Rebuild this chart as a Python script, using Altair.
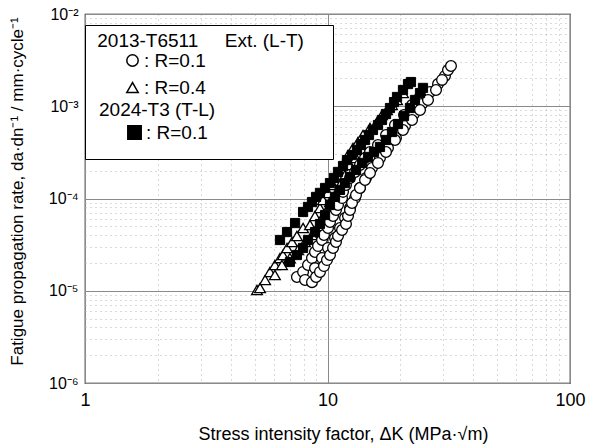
import altair as alt
import pandas as pd

FONT = "Liberation Sans"

# ---------------- data ----------------
# 2013-T6511 Ext. (L-T), R=0.1  (open circles), three bands
c1_dk = [7.48, 7.93, 8.31, 8.63, 8.88, 9.14, 9.49, 9.67, 10.05, 10.24,
         10.54, 10.84, 11.05, 11.48, 11.59, 11.92, 12.38, 12.99, 13.61, 14.28,
         14.97, 16.15, 17.43, 18.98, 20.68, 22.31, 24.07]
c1_rate = [1.41e-5, 1.60e-5, 1.90e-5, 2.26e-5, 2.63e-5, 3.05e-5, 3.55e-5, 4.02e-5, 4.79e-5, 5.56e-5,
           6.46e-5, 7.50e-5, 8.50e-5, 1.01e-4, 1.18e-4, 1.40e-4, 1.67e-4, 1.94e-4, 2.31e-4, 2.75e-4,
           3.19e-4, 3.80e-4, 4.88e-4, 6.26e-4, 8.04e-4, 1.03e-3, 1.26e-3]
c2_dk = [8.63, 8.97, 9.31, 9.67, 9.95, 10.24, 10.54, 10.84, 11.05, 11.48,
         11.92, 12.15, 12.38, 12.62, 13.11, 13.61, 14.28, 14.97, 16.15, 17.43,
         18.98, 20.48, 22.31, 24.07, 25.97, 28.02, 29.67, 31.40, 32.30]
c2_rate = [1.24e-5, 1.41e-5, 1.60e-5, 1.85e-5, 2.15e-5, 2.44e-5, 2.91e-5, 3.38e-5, 3.92e-5, 4.56e-5,
           5.29e-5, 6.46e-5, 7.50e-5, 8.94e-5, 1.09e-4, 1.30e-4, 1.59e-4, 1.89e-4, 2.43e-4, 3.19e-4,
           4.31e-4, 5.53e-4, 7.10e-4, 9.11e-4, 1.17e-3, 1.50e-3, 1.93e-3, 2.47e-3, 2.73e-3]
c3_dk = [8.08, 8.88, 9.49, 10.05, 10.74, 11.26, 11.81, 12.38, 12.99, 13.61,
         14.42, 15.26, 16.46, 17.76, 19.16, 20.87, 22.73, 24.53, 26.47, 28.56, 30.51]
c3_rate = [1.31e-5, 1.76e-5, 2.26e-5, 2.91e-5, 3.73e-5, 4.79e-5, 6.14e-5, 7.89e-5, 1.01e-4, 1.30e-4,
           1.67e-4, 2.14e-4, 2.75e-4, 3.53e-4, 4.53e-4, 6.11e-4, 8.24e-4, 1.06e-3, 1.43e-3, 1.74e-3, 2.13e-3]

# 2013-T6511 Ext. (L-T), R=0.4  (open triangles), two bands
t1_dk = [5.12, 5.27, 5.53, 5.79, 6.07, 6.37, 6.55, 6.81, 7.14, 7.48,
         7.93, 8.47, 8.88, 9.31, 9.58, 10.05, 10.54, 11.05, 11.59, 12.15,
         12.74, 13.36, 14.01, 14.97, 16.00, 16.78, 17.60, 18.45, 19.35, 20.48]
t1_rate = [1.02e-5, 1.07e-5, 1.31e-5, 1.60e-5, 1.90e-5, 2.26e-5, 2.44e-5, 2.91e-5, 3.38e-5, 3.92e-5,
           4.79e-5, 5.16e-5, 6.46e-5, 7.89e-5, 9.63e-5, 1.15e-4, 1.40e-4, 1.80e-4, 2.31e-4, 2.96e-4,
           3.53e-4, 4.10e-4, 4.88e-4, 5.81e-4, 6.75e-4, 8.04e-4, 9.11e-4, 1.03e-3, 1.17e-3, 1.39e-3]
t2_dk = [6.07, 6.49, 7.00, 7.56, 8.08, 8.63, 9.14, 9.49, 9.95, 10.24,
         10.74, 11.26, 11.81, 12.38, 13.11, 13.88]
t2_rate = [1.48e-5, 1.90e-5, 2.26e-5, 2.77e-5, 3.38e-5, 4.02e-5, 5.03e-5, 6.14e-5, 7.50e-5, 9.16e-5,
           1.09e-4, 1.40e-4, 1.80e-4, 2.31e-4, 2.75e-4, 3.36e-4]

# 2024-T3 (T-L), R=0.1  (filled squares), two bands
s1_dk = [6.37, 6.81, 7.35, 7.93, 8.31, 8.63, 8.97, 9.31, 9.77, 10.24,
         10.64, 11.05, 11.59, 12.03, 12.62, 13.23, 13.74, 14.28, 14.83, 15.40,
         16.15, 16.78, 17.43, 18.10, 18.81, 19.35, 20.48, 21.48, 22.09]
s1_rate = [3.55e-5, 4.33e-5, 5.42e-5, 7.14e-5, 8.09e-5, 9.16e-5, 1.04e-4, 1.15e-4, 1.30e-4, 1.47e-4,
           1.67e-4, 1.94e-4, 2.25e-4, 2.61e-4, 2.96e-4, 3.36e-4, 3.80e-4, 4.31e-4, 4.88e-4, 5.53e-4,
           6.26e-4, 7.10e-4, 8.24e-4, 9.57e-4, 1.11e-3, 1.26e-3, 1.50e-3, 1.74e-3, 1.83e-3]
s2_dk = [7.00, 7.48, 7.93, 8.31, 8.88, 9.31, 9.77, 10.24, 10.74, 11.26,
         11.81, 12.38, 13.11, 13.88, 14.69, 15.55, 16.46, 17.43, 18.45, 19.53,
         20.68, 21.88, 22.95, 24.07, 24.76]
s2_rate = [2.05e-5, 2.44e-5, 2.91e-5, 3.55e-5, 4.33e-5, 5.29e-5, 6.62e-5, 8.50e-5, 1.04e-4, 1.24e-4,
           1.47e-4, 1.71e-4, 2.04e-4, 2.43e-4, 2.82e-4, 3.19e-4, 3.62e-4, 4.31e-4, 5.26e-4, 6.42e-4,
           7.84e-4, 9.57e-4, 1.17e-3, 1.39e-3, 1.58e-3]

# legend texts (zero-width spaces keep the padding spaces from being trimmed)
ZW = "\u200b"
NB = "\u00a0"
title_2013 = ZW + NB + "2013-T6511" + NB * 5 + "Ext. (L-T)" + NB * 4 + ZW
title_2024 = "2024-T3 (T-L)"
lab_r01 = ": R=0.1"
lab_r04 = ": R=0.4"
spacer_a = ""      # empty rows reserving room for the 2024-T3 block
spacer_b = " "

# axes
x_major = [1, 10, 100]
x_major_labels = ["1", "10", "100"]
y_major = [1e-6, 1e-5, 1e-4, 1e-3, 1e-2]
y_major_labels = ["10\u207b\u2076", "10\u207b\u2075", "10\u207b\u2074", "10\u207b\u00b3", "10\u207b\u00b2"]
x_grid = [float(f"{m}e{e}") for e in (0, 1) for m in range(1, 10)] + [100.0]
y_grid = [float(f"{m}e{e}") for e in (-6, -5, -4, -3) for m in range(1, 10)] + [1e-2]

# ---------------- tables ----------------
def frame(dk, rate, grp):
    return pd.DataFrame({"dK": dk, "rate": rate, "grp": grp})

df13 = pd.concat([
    frame(t1_dk, t1_rate, lab_r04),
    frame(t2_dk, t2_rate, lab_r04),
    frame(c1_dk, c1_rate, lab_r01),
    frame(c3_dk, c3_rate, lab_r01),
    frame(c2_dk, c2_rate, lab_r01),
], ignore_index=True)
df24 = pd.concat([
    frame(s1_dk, s1_rate, lab_r01),
    frame(s2_dk, s2_rate, lab_r01),
], ignore_index=True)


def label_expr(values, labels):
    expr = "''"
    for v, l in reversed(list(zip(values, labels))):
        expr = f"datum.value == {v!r} ? '{l}' : {expr}"
    return expr


def major_test(values):
    return "indexof([" + ", ".join(repr(v) for v in values) + "], datum.value) >= 0"


x_axis = alt.Axis(
    values=x_grid, labelExpr=label_expr(x_major, x_major_labels), labelOverlap=False,
    labelFlush=False, ticks=False, tickSize=0, domain=False, labelPadding=8,
    labelFontSize=18, labelFont=FONT, labelColor="black",
    grid=True,
    gridColor={"condition": {"test": major_test(x_major), "value": "#8a8a8a"}, "value": "#b5b5b5"},
    gridDash={"condition": {"test": major_test(x_major), "value": []}, "value": [1, 4]},
    title="Stress intensity factor, \u0394K (MPa\u00b7\u221am)",
    titleFontSize=18, titleFont=FONT, titleFontWeight="normal", titleColor="black",
    titleX=258, titleY=51, titleBaseline="middle", titleAlign="center",
)
y_axis = alt.Axis(
    values=y_grid, labelExpr=label_expr(y_major, y_major_labels), labelOverlap=False,
    labelFlush=False, ticks=False, tickSize=0, domain=False, labelPadding=7,
    labelFontSize=16, labelFont=FONT, labelColor="black",
    grid=True,
    gridColor={"condition": {"test": major_test(y_major), "value": "#8a8a8a"}, "value": "#b5b5b5"},
    gridDash={"condition": {"test": major_test(y_major), "value": []}, "value": [1, 4]},
    title="Fatigue propagation rate, da\u00b7dn\u207b\u00b9 / mm\u00b7cycle\u207b\u00b9",
    titleFontSize=17, titleFont=FONT, titleFontWeight="normal", titleColor="black",
    titleX=-68, titleY=177, titleBaseline="middle", titleAlign="center", titleAngle=270,
)

x_enc = alt.X("dK:Q", scale=alt.Scale(type="log", domain=[1, 100]), axis=x_axis)
y_enc = alt.Y("rate:Q", scale=alt.Scale(type="log", domain=[1e-6, 1e-2]), axis=y_axis)

legend_2013 = alt.Legend(
    orient="none", legendX=0, legendY=11, title=title_2013,
    strokeColor="black", fillColor="white", padding=7,
    titleFont=FONT, titleFontSize=19, titleFontWeight="normal", titleColor="black",
    titlePadding=0, titleLimit=500,
    labelFont=FONT, labelFontSize=19, labelColor="black", labelLimit=400,
    symbolSize=130, symbolOffset=31, labelOffset=2, rowPadding=7,
    symbolStrokeWidth=1.5,
)
legend_2024 = alt.Legend(
    orient="none", legendX=14, legendY=87, title=title_2024, padding=0,
    titleFont=FONT, titleFontSize=19, titleFontWeight="normal", titleColor="black",
    titlePadding=3, titleLimit=500,
    labelFont=FONT, labelFontSize=19, labelColor="black", labelLimit=400,
    symbolSize=180, symbolOffset=26, labelOffset=2, zindex=1,
)

layer13 = alt.Chart(df13).mark_point(
    fill="white", stroke="black", strokeWidth=1.3, size=115, opacity=1, filled=False
).encode(
    x=x_enc, y=y_enc,
    shape=alt.Shape(
        "grp:N",
        scale=alt.Scale(domain=[lab_r01, lab_r04, spacer_a, spacer_b],
                        range=["circle", "triangle-up", "M0,0", "M0,0"]),
        legend=legend_2013,
    ),
)

layer24 = alt.Chart(df24).mark_point(
    fill="black", stroke="black", strokeWidth=1, size=85, opacity=1, filled=True
).encode(
    x=x_enc, y=y_enc,
    shape=alt.Shape(
        "grp:N",
        scale=alt.Scale(domain=[lab_r01], range=["square"]),
        legend=legend_2024,
    ),
)

chart = alt.layer(layer13, layer24).resolve_scale(shape="independent").properties(
    width=485, height=369,
    autosize=alt.AutoSizeParams(type="none"),
    padding={"left": 85, "top": 14, "right": 22, "bottom": 63},
    background="white",
).configure_view(stroke="black", strokeWidth=1.2)

chart.save("out.html", embed_options={"renderer": "svg", "actions": False})
